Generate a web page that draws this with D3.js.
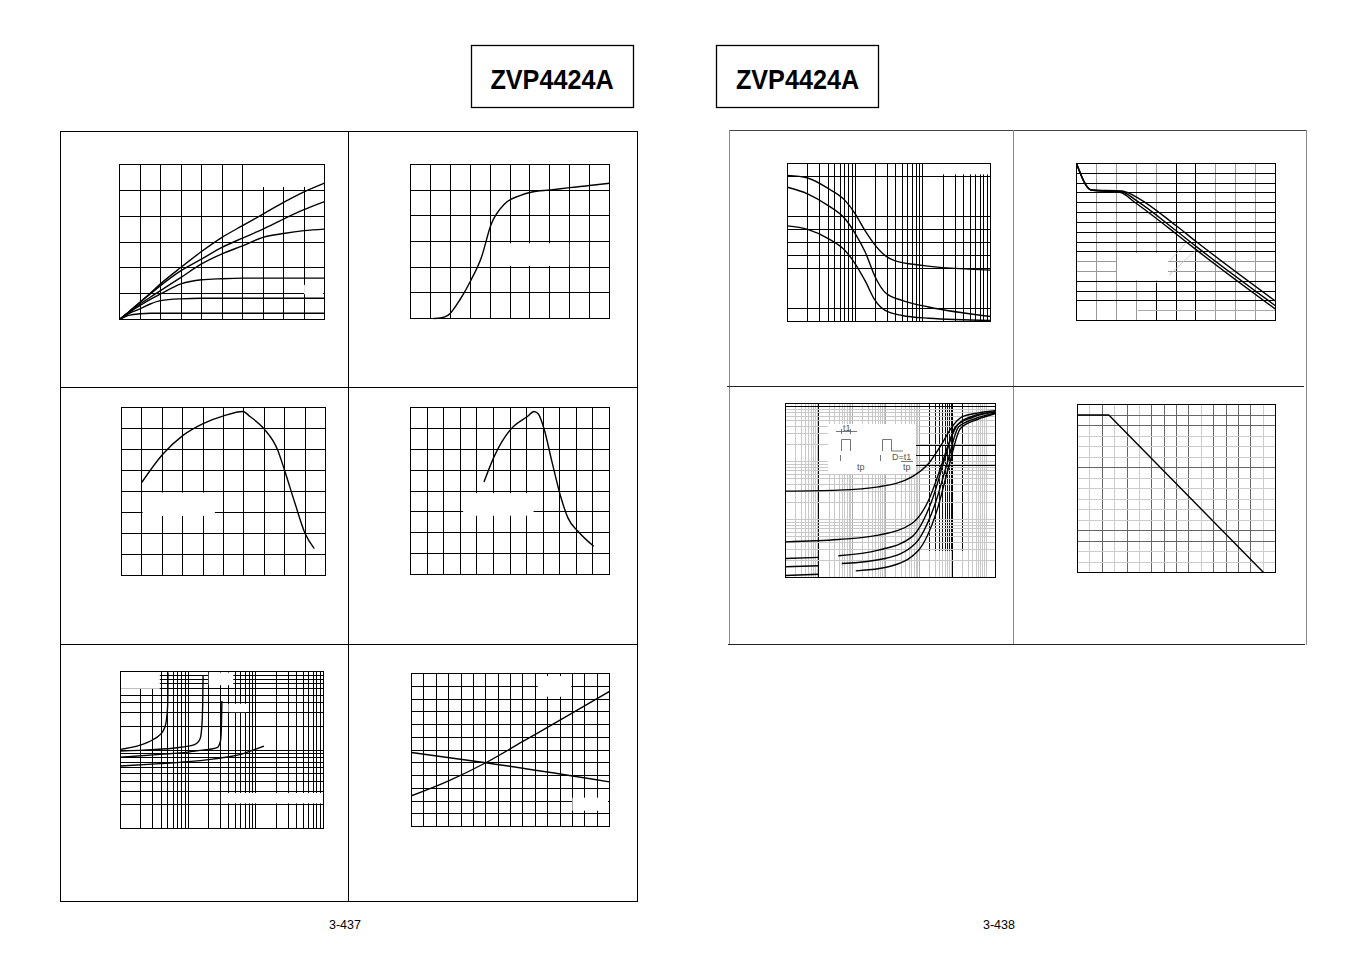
<!DOCTYPE html>
<html><head><meta charset="utf-8">
<script src="https://cdn.jsdelivr.net/npm/d3@7"></script>
<style>html,body{margin:0;padding:0;background:#fff;}svg{display:block;font-family:"Liberation Sans",Arial,sans-serif;}</style>
</head><body>
<svg id="c" width="1351" height="954"></svg>
<script>
// ================= DATA =================
const titles = ["ZVP4424A", "ZVP4424A"];
const pageNumbers = ["3-437", "3-438"];

// Panel 1 – output characteristics (grid units)
const outX  = [0, 0.5, 1, 1.5, 2, 3, 4, 5, 6, 7, 8, 9, 10];
const outY1 = [0, 0.33, 0.67, 1.02, 1.38, 2.02, 2.63, 3.18, 3.63, 4.08, 4.53, 4.94, 5.28];
const outY2 = [0, 0.33, 0.67, 0.99, 1.31, 1.89, 2.34, 2.79, 3.15, 3.5, 3.89, 4.25, 4.56];
const outY3 = [0, 0.31, 0.6, 0.86, 1.12, 1.63, 2.15, 2.54, 2.85, 3.18, 3.33, 3.44, 3.5];
const outY4 = [0, 0.29, 0.54, 0.78, 0.99, 1.38, 1.54, 1.58, 1.6, 1.6, 1.6, 1.6, 1.6];
const outY5 = [0, 0.25, 0.41, 0.6, 0.73, 0.8, 0.82, 0.82, 0.82, 0.82, 0.82, 0.82, 0.82];
const outY6 = [0, 0.17, 0.22, 0.24, 0.24, 0.24, 0.24, 0.24, 0.24, 0.24, 0.24, 0.24, 0.24];

// Panel 2 – transfer characteristic
const trX = [1.17, 1.5, 1.9, 2.5, 3.03, 3.57, 4.04, 4.74, 5.5, 6.05, 7.05, 8, 9, 10];
const trY = [0, 0.02, 0.13, 0.75, 1.48, 2.4, 3.64, 4.47, 4.79, 4.92, 5.01, 5.1, 5.18, 5.27];

// Panel 3
const p3X = [1, 2, 3, 4, 5, 5.95, 6.3, 7, 7.65, 8, 8.5, 9, 9.45];
const p3Y = [4.44, 5.75, 6.66, 7.23, 7.6, 7.81, 7.57, 6.97, 5.99, 4.99, 3.45, 2.0, 1.28];

// Panel 4
const p4X = [4.43, 5.05, 6.05, 7.05, 7.45, 7.7, 8.06, 8.5, 9.05, 9.5, 10.1, 11.05];
const p4Y = [4.43, 5.66, 6.96, 7.57, 7.81, 7.7, 6.96, 5.5, 3.75, 2.7, 2.07, 1.35];

// Panel 5 – log/log
const p5C1x = [1, 1.75, 2.46, 3.09, 3.66, 4.1, 4.49, 4.75, 4.92, 4.98, 5.02, 5.03];
const p5C1y = [10.2, 11.2, 12.4, 13.7, 15.1, 16.6, 19.3, 23.4, 31.5, 38.3, 62.5, 97];
const p5C2x = [1, 3, 6.84, 10, 12.1, 14, 15.2, 16.1, 16.4, 16.6];
const p5C2y = [9.7, 10.1, 10.7, 11.2, 11.6, 12.6, 14.4, 23.4, 40, 88];
const p5C3x = [1, 3.87, 10, 15.2, 22, 26.8, 30, 31, 31.5];
const p5C3y = [8.1, 8.8, 9.4, 9.9, 10.3, 10.7, 13.0, 20, 42.2];
const p5C4x = [1, 3.87, 10, 21.4, 40, 59.5, 88.6, 132];
const p5C4y = [6.25, 6.7, 7.1, 7.6, 8.2, 8.8, 9.9, 11.2];

// Panel 6
const p6AX = [0, 3, 6, 9, 12, 16];
const p6AY = [2.41, 3.58, 5.0, 6.67, 8.34, 10.6];
const p6BX = [0, 6, 16];
const p6BY = [5.8, 5.0, 3.5];

// Panel 7 – capacitance (log x)
const p7X1 = [1, 1.98, 4, 7.07, 9.96, 14, 19.7, 27.8, 39.1, 97.2, 1000];
const p7Y1 = [11.1, 10.9, 10.1, 9.2, 8.2, 6.9, 5.8, 5.0, 4.6, 4.26, 3.9];
const p7X2 = [1, 1.98, 4, 7.07, 9.96, 14, 19.7, 27.8, 49.2, 122, 1000];
const p7Y2 = [10.2, 9.7, 8.8, 7.8, 6.7, 5.3, 3.4, 2.2, 1.6, 1.1, 0.38];
const p7X3 = [1, 1.98, 4, 7.07, 9.96, 14, 19.7, 27.8, 49.2, 122, 1000];
const p7Y3 = [7.26, 7.0, 6.3, 5.4, 4.4, 3.1, 1.6, 0.84, 0.46, 0.25, 0.08];
const p7YGrid = [1, 4, 5, 6, 7, 8, 11];

// Panel 8
const p8X1 = [0, 0.74, 2.3, 2.47, 3.14, 4.98, 6.04, 10];
const p8Y1 = [16, 13.3, 13.2, 13.1, 12.43, 9.7, 8.0, 1.97];
const p8X2 = [0, 0.74, 2.31, 2.98, 4.98, 6.04, 10];
const p8Y2 = [16, 13.3, 13.1, 12.26, 9.2, 7.5, 1.5];
const p8X3 = [0, 0.74, 2.22, 2.89, 4.98, 6.04, 10];
const p8Y3 = [16, 13.3, 13.04, 12.1, 8.87, 7.17, 1.15];

// Panel 9 – transient thermal (log/log)
const p9C1x = [1e-5, 3.8e-4, 6e-3, 0.06, 0.19, 0.48, 0.95, 1.9, 6.0, 19];
const p9C1y = [0.0308, 0.0321, 0.0366, 0.0544, 0.0925, 0.204, 0.396, 0.589, 0.69, 0.748];
const p9C2x = [1e-5, 3.8e-4, 6e-3, 0.06, 0.19, 0.48, 0.76, 1.51, 4.79, 19];
const p9C2y = [0.00412, 0.00452, 0.00537, 0.00853, 0.0215, 0.0925, 0.204, 0.452, 0.629, 0.718];
const p9C3aX = [1e-5, 1e-4], p9C3aY = [0.00213, 0.00222];
const p9C3x = [3.8e-4, 6e-3, 0.06, 0.24, 0.6, 1.2, 3.8, 19];
const p9C3y = [0.00237, 0.00296, 0.00502, 0.0215, 0.12, 0.396, 0.574, 0.709];
const p9C4aX = [1e-5, 1e-4], p9C4aY = [0.00153, 0.00159];
const p9C4x = [4.8e-4, 9.5e-3, 0.076, 0.30, 0.68, 1.51, 4.79, 19];
const p9C4y = [0.00174, 0.00213, 0.00386, 0.0189, 0.0925, 0.396, 0.551, 0.69];
const p9C5aX = [1e-5, 1e-4], p9C5aY = [0.00108, 0.00114];
const p9C5x = [1.26e-3, 0.012, 0.095, 0.34, 0.76, 1.7, 5.4, 19];
const p9C5y = [0.0013, 0.00153, 0.00296, 0.0145, 0.081, 0.371, 0.53, 0.673];

// Panel 10 – derating
const p10X = [0, 2.53, 15.03];
const p10Y = [15, 15, 0];

// ================= HELPERS =================
const svg = d3.select("#c");
const range = (a, b) => d3.range(a, b + 1);
function logGrid(lo, hi) {
  const out = [];
  for (let k = Math.floor(Math.log10(lo)); k <= Math.ceil(Math.log10(hi)); k++)
    for (let m = 1; m <= 9; m++) {
      const v = +(m * Math.pow(10, k)).toPrecision(6);
      if (v > lo * 1.0001 && v < hi * 0.9999) out.push(v);
    }
  return out;
}
function mk(log, dom, rng, round) {
  const s = (log ? d3.scaleLog() : d3.scaleLinear()).domain(dom).range(rng);
  if (round) s.interpolate(d3.interpolateRound);
  return s;
}
const zipS = (x, y) => d3.zip(x, y);

function drawPanel(p) {
  const [x0, y0, x1, y1] = p.box;
  const xr = mk(p.xLog, p.xDomain, [x0, x1], true);
  const yr = mk(p.yLog, p.yDomain, [y1, y0], true);
  const xs = mk(p.xLog, p.xDomain, [x0 + .5, x1 + .5], false);
  const ys = mk(p.yLog, p.yDomain, [y1 + .5, y0 + .5], false);
  const g = svg.append("g");
  const gg = g.append("g").attr("shape-rendering", "crispEdges");
  (p.xGrids || []).forEach(d => {
    const a = d.from != null ? yr(d.from) : y1;
    const b = d.to != null ? yr(d.to) : y0;
    gg.append("g").attr("transform", `translate(0,${a})`)
      .call(d3.axisBottom(xr).tickValues(d.values).tickSize(-(a - b)).tickFormat(""))
      .call(s => s.select(".domain").remove())
      .call(s => s.selectAll("line").attr("stroke", d.color || "#000").attr("stroke-width", d.w || 1));
  });
  (p.yGrids || []).forEach(d => {
    const a = d.from != null ? xr(d.from) : x0;
    const b = d.to != null ? xr(d.to) : x1;
    gg.append("g").attr("transform", `translate(${a},0)`)
      .call(d3.axisLeft(yr).tickValues(d.values).tickSize(-(b - a)).tickFormat(""))
      .call(s => s.select(".domain").remove())
      .call(s => s.selectAll("line").attr("stroke", d.color || "#000").attr("stroke-width", d.w || 1));
  });
  const W = x1 - x0, H = y1 - y0;
  (p.masks || []).forEach(m => {
    g.append("rect").attr("x", x0 + m[0] * W).attr("y", y0 + m[1] * H)
      .attr("width", (m[2] - m[0]) * W).attr("height", (m[3] - m[1]) * H).attr("fill", "#fff");
  });
  if (p.extra) p.extra(g, xs, ys);
  g.append("rect").attr("x", x0 + .5).attr("y", y0 + .5).attr("width", W).attr("height", H)
    .attr("fill", "none").attr("stroke", "#000").attr("stroke-width", 1).attr("shape-rendering", "crispEdges");
  (p.series || []).forEach(s => {
    g.append("path").datum(s.d)
      .attr("d", d3.line().x(d => xs(d[0])).y(d => ys(d[1])).curve(s.curve || d3.curveMonotoneX))
      .attr("fill", "none").attr("stroke", s.color || "#000").attr("stroke-width", s.w || 1.4)
      .attr("stroke-linejoin", "round");
  });
}

// ================= PAGE FRAMES =================
const frame = svg.append("g").attr("shape-rendering", "crispEdges").attr("fill", "none");
frame.append("rect").attr("x", 60.5).attr("y", 131.5).attr("width", 577).attr("height", 770).attr("stroke", "#000");
frame.append("line").attr("x1", 348.5).attr("x2", 348.5).attr("y1", 131).attr("y2", 901).attr("stroke", "#000");
[387.5, 644.5].forEach(y => frame.append("line").attr("x1", 60).attr("x2", 637).attr("y1", y).attr("y2", y).attr("stroke", "#000"));
// right page
frame.append("line").attr("x1", 729).attr("x2", 1307).attr("y1", 130.5).attr("y2", 130.5).attr("stroke", "#444");
[729.5, 1013.5, 1306.5].forEach(x => frame.append("line").attr("x1", x).attr("x2", x).attr("y1", 130).attr("y2", 645).attr("stroke", "#888"));
frame.append("line").attr("x1", 727).attr("x2", 1304).attr("y1", 386.5).attr("y2", 386.5).attr("stroke", "#222");
frame.append("line").attr("x1", 728).attr("x2", 1305).attr("y1", 644.5).attr("y2", 644.5).attr("stroke", "#222");

// titles
[[471.5, 552], [716.5, 797.5]].forEach(([bx, cx], i) => {
  svg.append("rect").attr("x", bx).attr("y", 45.5).attr("width", 162).attr("height", 62)
    .attr("fill", "none").attr("stroke", "#000").attr("stroke-width", 1.3);
  svg.append("text").attr("transform", `translate(${cx},89) scale(0.9,1)`).attr("text-anchor", "middle")
    .attr("font-size", 28).attr("font-weight", "bold").attr("fill", "#000").text(titles[i]);
});
[[345, pageNumbers[0]], [999, pageNumbers[1]]].forEach(([x, t]) =>
  svg.append("text").attr("x", x).attr("y", 929).attr("text-anchor", "middle").attr("font-size", 12.5).attr("fill", "#000").text(t));

// ================= PANELS =================
drawPanel({
  box: [119, 164, 324, 319], xDomain: [0, 10], yDomain: [0, 6],
  xGrids: [{ values: range(1, 9) }], yGrids: [{ values: range(1, 5) }],
  masks: [[0.606, 0.004, 0.995, 0.148], [0.903, 0.78, 0.996, 0.84]],
  series: [outY1, outY2, outY3, outY4, outY5, outY6].map(y => ({ d: zipS(outX, y) }))
});
drawPanel({
  box: [410, 164, 609, 318], xDomain: [0, 10], yDomain: [0, 6],
  xGrids: [{ values: range(1, 9) }], yGrids: [{ values: range(1, 5) }],
  masks: [[0.41, 0.515, 0.80, 0.662]],
  series: [{ d: zipS(trX, trY) }]
});
drawPanel({
  box: [121, 407, 325, 575], xDomain: [0, 10], yDomain: [0, 8],
  xGrids: [{ values: range(1, 9) }], yGrids: [{ values: range(1, 7) }],
  masks: [[0.106, 0.509, 0.46, 0.648]],
  series: [{ d: zipS(p3X, p3Y) }]
});
drawPanel({
  box: [410, 407, 609, 574], xDomain: [0, 12], yDomain: [0, 8],
  xGrids: [{ values: range(1, 11) }], yGrids: [{ values: range(1, 7) }],
  masks: [[0.267, 0.516, 0.621, 0.651]],
  series: [{ d: zipS(p4X, p4Y) }]
});
drawPanel({
  box: [120, 671, 323, 828], xLog: true, yLog: true, xDomain: [1, 1000], yDomain: [1, 100],
  xGrids: [{ values: logGrid(1, 1000) }], yGrids: [{ values: logGrid(1, 100) }],
  masks: [[0.003, 0.004, 0.196, 0.113], [0.437, 0.01, 0.558, 0.09], [0.534, 0.209, 0.624, 0.262], [0.497, 0.777, 0.998, 0.843]],
  series: [[p5C1x, p5C1y], [p5C2x, p5C2y], [p5C3x, p5C3y], [p5C4x, p5C4y]].map(([x, y]) => ({ d: zipS(x, y) }))
});
drawPanel({
  box: [411, 673, 609, 826], xDomain: [0, 16], yDomain: [0, 12],
  xGrids: [{ values: range(1, 15) }], yGrids: [{ values: range(1, 11) }],
  masks: [[0.64, 0.02, 0.81, 0.155], [0.815, 0.815, 0.995, 0.9]],
  series: [{ d: zipS(p6AX, p6AY) }, { d: zipS(p6BX, p6BY) }]
});
drawPanel({
  box: [787, 163, 990, 321], xLog: true, xDomain: [1, 1000], yDomain: [0, 12],
  xGrids: [{ values: logGrid(1, 1000) }], yGrids: [{ values: p7YGrid }],
  masks: [[0.679, 0.004, 0.998, 0.072]],
  series: [{ d: zipS(p7X1, p7Y1) }, { d: zipS(p7X2, p7Y2) }, { d: zipS(p7X3, p7Y3) }]
});
drawPanel({
  box: [1076, 163, 1275, 320], xDomain: [0, 10], yDomain: [0, 16],
  xGrids: [{ values: [1, 2, 3, 4, 7, 8, 9], color: "#999" }, { values: [5, 6] }, { values: [4], from: 0, to: 3.77 }],
  yGrids: [{ values: [2, 3, 4, 7, 8, 9, 10, 11, 12, 13, 14, 15] }, { values: [5, 6], color: "#999" }, { values: [1], from: 3.14, to: 10, color: "#aaa" }],
  masks: [[0.206, 0.573, 0.462, 0.747]],
  extra: (g, xs, ys) => {
    [[[4.65, 5.98], [5.48, 7.85]], [[4.65, 4.62], [5.99, 7.17]]].forEach(seg =>
      g.append("line").attr("x1", xs(seg[0][0])).attr("y1", ys(seg[0][1])).attr("x2", xs(seg[1][0])).attr("y2", ys(seg[1][1]))
        .attr("stroke", "#bbb").attr("stroke-width", 0.8));
  },
  series: [{ d: zipS(p8X1, p8Y1) }, { d: zipS(p8X2, p8Y2) }, { d: zipS(p8X3, p8Y3) }]
});
drawPanel({
  box: [785, 403, 995, 577], xLog: true, yLog: true, xDomain: [1e-5, 19], yDomain: [0.001, 1],
  xGrids: [
    { values: logGrid(1e-5, 19), color: "#c8c8c8" },
    { values: [1e-3, 1e-2, 1e-1], color: "#aaa", w: 1.5 },
    { values: [0.2, 0.3, 0.4, 0.5, 0.6, 0.7, 0.8, 0.9, 2], from: 0.0028, to: 1, color: "#111" },
    { values: [1e-4, 1] }
  ],
  yGrids: [
    { values: logGrid(0.001, 1), color: "#c8c8c8" },
    { values: [0.877] },
    { values: [0.191, 0.128, 0.0865], from: 0.085, to: 19 }
  ],
  extra: (g) => {
    g.append("rect").attr("x", 828).attr("y", 424).attr("width", 88).attr("height", 50).attr("fill", "#fff");
    const ig = g.append("g").attr("stroke", "#666").attr("fill", "none").attr("stroke-width", 0.9);
    ig.append("path").attr("d", "M836,431.5H857M841.5,429v5M850.5,429v5");
    ig.append("path").attr("d", "M841.5,451V439.5H850.5V451");
    ig.append("path").attr("d", "M882.5,451V439.5H891.5V451H903");
    ig.append("path").attr("d", "M840.5,455v6M880.5,455v6M901,461.5H913");
    const tg = g.append("g").attr("fill", "#555").attr("font-size", 9);
    tg.append("text").attr("x", 843).attr("y", 431).text("t1");
    tg.append("text").attr("x", 857).attr("y", 470).text("tp");
    tg.append("text").attr("x", 892).attr("y", 460).text("D=t1");
    tg.append("text").attr("x", 903).attr("y", 470).text("tp");
  },
  series: [
    [p9C1x, p9C1y], [p9C2x, p9C2y], [p9C3aX, p9C3aY], [p9C3x, p9C3y],
    [p9C4aX, p9C4aY], [p9C4x, p9C4y], [p9C5aX, p9C5aY], [p9C5x, p9C5y]
  ].map(([x, y]) => ({ d: zipS(x, y) }))
});
drawPanel({
  box: [1077, 404, 1275, 572], xDomain: [0, 16], yDomain: [0, 16],
  xGrids: [{ values: [1, 3, 5, 10, 15], color: "#ccc" }, { values: [2, 4, 6, 7, 8, 9, 11, 12, 13, 14], color: "#666" }],
  yGrids: [{ values: [1, 2, 5, 6, 7, 8, 9, 11, 12, 13], color: "#ccc" }, { values: [3, 4, 10, 14, 15], color: "#666" }],
  series: [{ d: zipS(p10X, p10Y), curve: d3.curveLinear }]
});
</script>
</body></html>
